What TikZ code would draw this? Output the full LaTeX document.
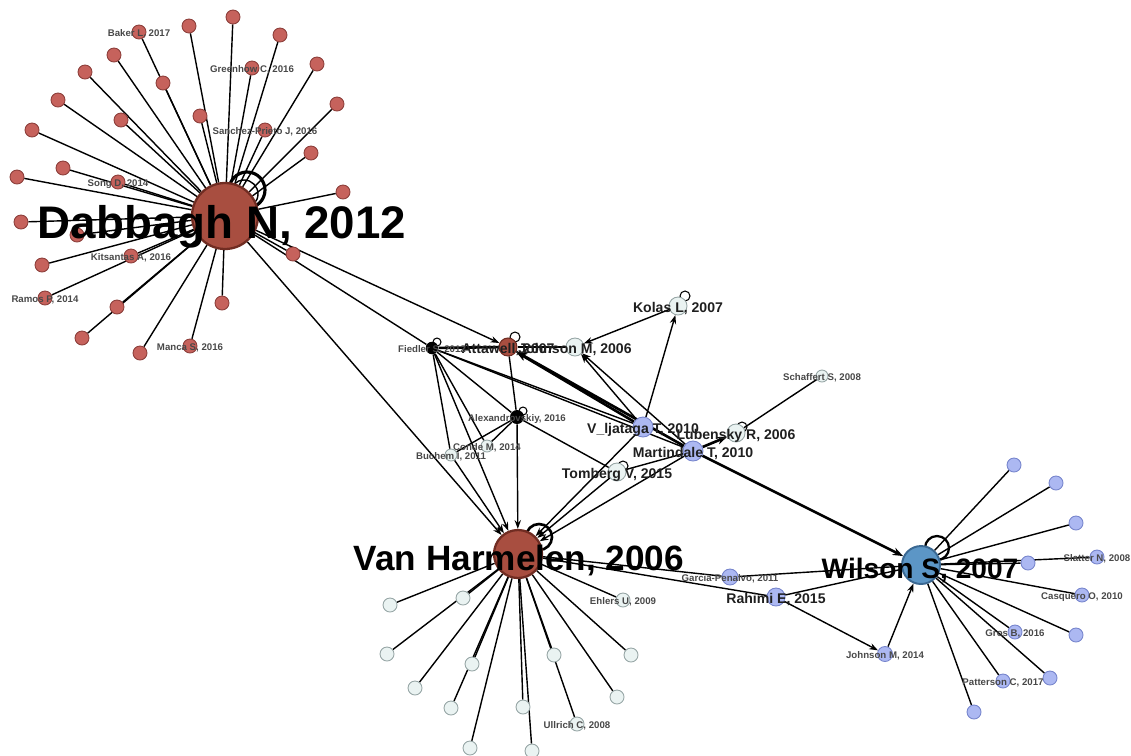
\documentclass[tikz,border=0pt]{standalone}
\usepackage{fontspec}
\setmainfont{Liberation Sans}
\usepackage{xcolor}
\definecolor{nethub}{RGB}{168,78,64}
\definecolor{nethubline}{RGB}{112,44,34}
\definecolor{netred}{RGB}{198,98,92}
\definecolor{netredline}{RGB}{140,62,58}
\definecolor{netsteel}{RGB}{92,150,198}
\definecolor{netsteelline}{RGB}{58,104,146}
\definecolor{netlav}{RGB}{172,184,242}
\definecolor{netlavline}{RGB}{118,132,204}
\definecolor{netpale}{RGB}{234,243,242}
\definecolor{netpaleline}{RGB}{150,165,165}
\definecolor{netgrey}{RGB}{72,72,72}
\usepackage{tikz}
\usetikzlibrary{arrows.meta}
\pgfdeclarelayer{edges}
\pgfdeclarelayer{labels}
\pgfsetlayers{edges,main,labels}

\tikzset{
  hub/.style={circle, draw=nethubline, fill=nethub, line width=1.3pt, inner sep=0pt},
  wilhub/.style={circle, draw=netsteelline, fill=netsteel, line width=1.1pt, inner sep=0pt},
  redleaf/.style={circle, draw=netredline, fill=netred, line width=0.5pt, inner sep=0pt, minimum size=0.28cm},
  paleleaf/.style={circle, draw=netpaleline, fill=netpale, line width=0.5pt, inner sep=0pt, minimum size=0.28cm},
  lavleaf/.style={circle, draw=netlavline, fill=netlav, line width=0.5pt, inner sep=0pt, minimum size=0.28cm},
  blackdot/.style={circle, fill=black, inner sep=0pt, minimum size=0.25cm},
  edge/.style={black, line width=0.8pt},
  thickedge/.style={black, line width=1.5pt},
  arr/.style={edge, -{Stealth[length=5pt,width=3.6pt]}},
  thickarr/.style={thickedge, -{Stealth[length=6pt,width=4.4pt]}},
  selfloop/.style={black, line width=0.6pt},
  bigloop/.style={black, line width=1.8pt},
  lblhuge/.style={font=\fontsize{26}{28}\selectfont\bfseries, anchor=base, yshift=-13pt},
  lblbig/.style={font=\fontsize{20}{22}\selectfont\bfseries, anchor=base, yshift=-9.4pt},
  lblwil/.style={font=\fontsize{16}{18}\selectfont\bfseries, anchor=base, yshift=-7.4pt},
  lblmid/.style={font=\fontsize{8}{9}\selectfont\bfseries, text=black!88, anchor=base, yshift=-3.7pt, inner sep=0pt},
  lblsmall/.style={font=\fontsize{5.5}{6}\selectfont\bfseries, text=netgrey, anchor=base, yshift=-2.3pt, inner sep=0pt},
}

\begin{document}
\begin{tikzpicture}[x=0.02cm, y=-0.02cm]
\useasboundingbox (0,0) rectangle (1131,755);

% === hubs ===
\node[hub, minimum size=1.32cm] (dab) at (225,216) {};
\node[hub, minimum size=0.96cm] (vh) at (518,554) {};
\node[wilhub, minimum size=0.76cm] (wil) at (921,565) {};

% === middle cluster ===
\node[hub, line width=0.6pt, minimum size=0.36cm] (att) at (508,347) {};
\node[blackdot] (fied) at (432,348) {};
\node[blackdot, minimum size=0.28cm] (alex) at (517,417) {};
\node[paleleaf, minimum size=0.36cm] (joh06) at (575,347) {};
\node[paleleaf, minimum size=0.36cm] (kol) at (678,306) {};
\node[paleleaf, minimum size=0.24cm] (sch) at (822,376) {};
\node[paleleaf, minimum size=0.36cm] (lub) at (736,433) {};
\node[paleleaf, minimum size=0.36cm] (tom) at (617,472) {};
\node[paleleaf, minimum size=0.24cm] (conde) at (487,446) {};
\node[paleleaf, minimum size=0.24cm] (buch) at (451,455) {};
\node[lavleaf, minimum size=0.4cm] (vlj) at (643,427) {};
\node[lavleaf, minimum size=0.4cm] (mar) at (693,451) {};
\node[lavleaf, minimum size=0.32cm] (garc) at (730,577) {};
\node[lavleaf, minimum size=0.36cm] (rah) at (776,597) {};
\node[lavleaf, minimum size=0.3cm] (joh14) at (885,654) {};

% === leaves of the three stars ===
\foreach \px/\py [count=\i] in {139/32, 189/26, 233/17, 280/35, 114/55, 163/83,
    252/68, 317/64, 85/72, 58/100, 200/116, 337/104, 121/120, 265/130, 32/130,
    311/153, 63/168, 118/182, 17/177, 343/192, 21/222, 77/235, 293/254, 42/265,
    131/256, 45/298, 117/307, 222/303, 82/338, 140/353, 190/346}
  \node[redleaf] (d\i) at (\px,\py) {};
\foreach \px/\py [count=\i] in {390/605, 463/598, 387/654, 472/664, 415/688,
    451/708, 554/655, 631/655, 617/697, 523/707, 577/724, 623/600, 470/748, 532/751}
  \node[paleleaf] (v\i) at (\px,\py) {};
\foreach \px/\py [count=\i] in {1014/465, 1056/483, 1076/523, 1028/563, 1097/557,
    1082/595, 1076/635, 1015/632, 1050/678, 1003/681, 974/712}
  \node[lavleaf] (w\i) at (\px,\py) {};

\begin{pgfonlayer}{edges}
% star edges
\foreach \i in {1,...,31} \draw[edge] (dab) -- (d\i);
\foreach \i in {1,...,14} \draw[edge] (vh) -- (v\i);
\foreach \i in {1,...,11} \draw[edge] (wil) -- (w\i);

% self loops
\draw[bigloop] (247,190) circle[radius=0.36cm];
\draw[edge] (244,194) circle[radius=0.28cm];
\draw[bigloop, line width=1.5pt] (539,537) circle[radius=0.26cm];
\draw[bigloop, line width=1.3pt] (937,548) circle[radius=0.24cm];
\foreach \cx/\cy/\r in {515/337/0.1, 437/342/0.08, 523/411/0.08, 685/296/0.1,
    742/427/0.1, 623/466/0.1}
  \draw[selfloop] (\cx,\cy) circle[radius=\r cm];

% from Dabbagh
\draw[arr] (dab) -- (att);
\draw[edge] (dab) -- (fied);
\draw[arr] (dab) -- (vh);

% Fiedler / Attawell / Alexandrov
\draw[thickedge] (fied) -- (att);
\draw[thickedge] (att) -- (joh06);
\draw[edge] (fied) -- (vlj);
\draw[edge] (fied) -- (mar);
\draw[edge] (fied) -- (alex);
\draw[edge] (fied) -- (buch);
\draw[edge] (fied) -- (conde);
\draw[arr] (fied) -- (vh);
\draw[arr] (buch) -- (vh);
\draw[edge] (att) -- (alex);
\draw[arr] (alex) -- (vh);
\draw[edge] (alex) -- (tom);
\draw[edge] (alex) -- (conde);
\draw[edge] (alex) -- (buch);

% towards Attawell, Johnson and Kolas
\draw[arr] (kol) -- (joh06);
\draw[arr] (vlj) -- (kol);
\draw[arr] (vlj) -- (joh06);
\draw[arr] (mar) -- (joh06);
\draw[thickarr] (vlj) -- (att);
\draw[thickarr] (mar) -- (att);

% Van Harmelen side
\draw[arr] (vlj) -- (vh);
\draw[arr] (tom) -- (vh);
\draw[arr] (mar) -- (vh);
\draw[edge] (tom) -- (mar);
\draw[thickarr] (mar) -- (lub);
\draw[edge] (lub) -- (sch);
\draw[thickarr] (mar) -- (wil);
\draw[edge] (vh) -- (garc);
\draw[edge] (garc) -- (wil);
\draw[edge] (vh) -- (rah);
\draw[edge] (rah) -- (wil);
\draw[arr] (rah) -- (joh14);
\draw[arr] (joh14) -- (wil);
\end{pgfonlayer}

\begin{pgfonlayer}{labels}
% hub labels
\node[lblhuge] at (222,216) {Dabbagh N, 2012};
\node[lblbig] at (519,554) {Van Harmelen, 2006};
\node[lblwil] at (920,565) {Wilson S, 2007};

% middle labels
\node[lblmid] at (att) {Attawell, 2007};
\node[lblmid] at (joh06) {Johnson M, 2006};
\node[lblmid] at (kol) {Kolas L, 2007};
\node[lblmid] at (vlj) {V\_ljataga T, 2010};
\node[lblmid] at (lub) {Lubensky R, 2006};
\node[lblmid] at (mar) {Martindale T, 2010};
\node[lblmid] at (tom) {Tomberg V, 2015};
\node[lblmid] at (rah) {Rahimi E, 2015};

% small labels
\node[lblsmall] at (fied) {Fiedler S, 2012};
\node[lblsmall] at (alex) {Alexandrovskiy, 2016};
\node[lblsmall] at (conde) {Conde M, 2014};
\node[lblsmall] at (buch) {Buchem I, 2011};
\node[lblsmall] at (sch) {Schaffert S, 2008};
\node[lblsmall] at (garc) {Garcia-Penalvo, 2011};
\node[lblsmall] at (joh14) {Johnson M, 2014};
\node[lblsmall] at (d1) {Baker L, 2017};
\node[lblsmall] at (d7) {Greenhow C, 2016};
\node[lblsmall] at (d14) {Sanchez-Prieto J, 2016};
\node[lblsmall] at (d18) {Song D, 2014};
\node[lblsmall] at (d25) {Kitsantas A, 2016};
\node[lblsmall] at (d26) {Ramos P, 2014};
\node[lblsmall] at (d31) {Manca S, 2016};
\node[lblsmall] at (v11) {Ullrich C, 2008};
\node[lblsmall] at (v12) {Ehlers U, 2009};
\node[lblsmall] at (w5) {Slatter N, 2008};
\node[lblsmall] at (w6) {Casquero O, 2010};
\node[lblsmall] at (w8) {Gros B, 2016};
\node[lblsmall] at (w10) {Patterson C, 2017};
\end{pgfonlayer}

\end{tikzpicture}
\end{document}
